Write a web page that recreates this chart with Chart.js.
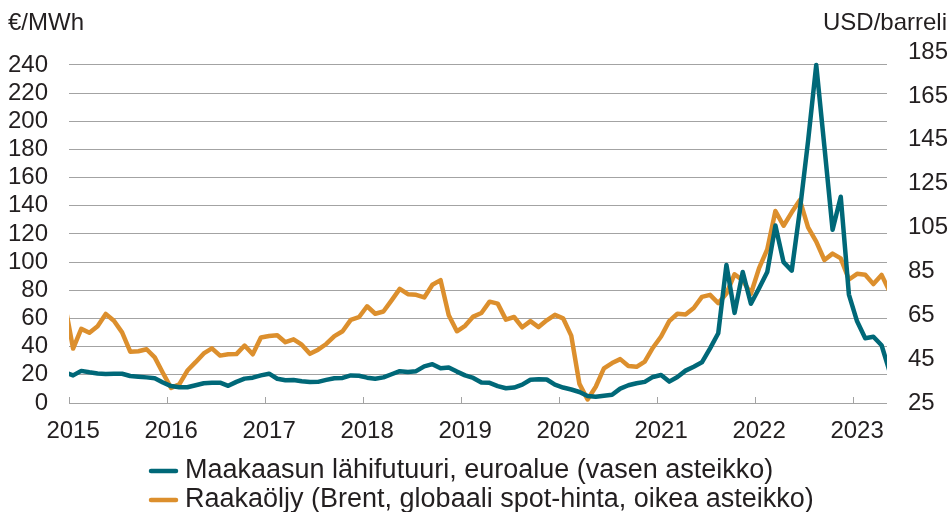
<!DOCTYPE html>
<html>
<head>
<meta charset="utf-8">
<script src="https://cdn.jsdelivr.net/npm/chart.js@4.4.0/dist/chart.umd.min.js"></script>
<style>
  html, body { margin: 0; padding: 0; background: #fff; }
</style>
</head>
<body>
<canvas id="energyChart" width="949" height="512"></canvas>
<script>
// Monthly averages, Dec 2014 - May 2023 (first and last points fall just outside the plot)
const startYear = 2014;
const startMonth = 12;

// Maakaasu (TTF), €/MWh
const gasPrices = [
  21.7,
  19.6, 22.8, 21.8, 21.0, 20.6, 20.7, 20.8, 19.2, 18.7, 18.2, 17.6, 14.6,   // 2015
  12.0, 11.2, 11.2, 12.6, 14.0, 14.4, 14.4, 12.2, 15.0, 17.3, 18.0, 19.6,   // 2016
  20.8, 17.2, 16.2, 16.4, 15.5, 14.9, 15.0, 16.4, 17.6, 17.8, 19.6, 19.3,   // 2017
  18.0, 17.2, 18.2, 20.4, 22.6, 22.0, 22.6, 26.0, 27.6, 24.6, 25.2, 22.3,   // 2018
  19.6, 17.8, 14.5, 14.3, 12.0, 10.5, 11.0, 13.0, 16.5, 16.8, 16.7, 13.0,   // 2019
  11.0, 9.6, 7.8, 5.0, 4.4, 5.2, 5.8, 10.2, 12.6, 14.0, 15.0, 18.5,         // 2020
  19.9, 15.2, 18.5, 23.0, 25.8, 28.9, 38.8, 49.5, 98.0, 64.0, 93.0, 70.5,   // 2021
  81.5, 93.0, 126.0, 100.0, 94.0, 137.0, 186.0, 240.0, 182.0, 123.0, 146.5, 77.0, // 2022
  58.0, 46.0, 47.0, 41.0, 22.0                                              // 2023
];

// Raakaöljy (Brent), USD/barreli
const oilPrices = [
  70.0,
  49.8, 58.8, 57.0, 60.0, 65.6, 62.5, 57.2, 48.4, 48.6, 49.5, 45.8, 38.7,   // 2015
  31.9, 33.5, 39.8, 43.6, 47.6, 49.9, 46.6, 47.2, 47.3, 51.2, 47.2, 54.9,   // 2016
  55.5, 55.9, 52.7, 54.0, 51.6, 47.4, 49.3, 51.9, 55.5, 57.7, 62.9, 64.1,   // 2017
  69.1, 65.7, 66.7, 71.8, 77.0, 74.6, 74.3, 73.1, 78.9, 81.0, 65.0, 57.7,   // 2018
  60.2, 64.4, 66.0, 71.2, 70.3, 63.0, 64.2, 59.5, 62.3, 59.6, 62.7, 65.2,   // 2019
  63.6, 55.7, 33.7, 26.6, 32.4, 40.8, 43.2, 45.0, 41.9, 41.5, 43.9, 50.2,   // 2020
  55.3, 62.3, 65.7, 65.3, 68.3, 73.4, 74.3, 70.5, 74.9, 83.7, 80.9, 74.8,   // 2021
  86.5, 95.0, 112.5, 105.8, 111.9, 117.5, 105.1, 98.6, 90.2, 93.1, 90.9, 81.3, // 2022
  83.9, 83.5, 79.2, 83.4, 75.7                                              // 2023
];

const yearTicks = [2015, 2016, 2017, 2018, 2019, 2020, 2021, 2022, 2023];
const seriesLabels = [
  'Maakaasun lähifutuuri, euroalue (vasen asteikko)',
  'Raakaöljy (Brent, globaali spot-hinta, oikea asteikko)'
];
const unitLeft = '€/MWh';
const unitRight = 'USD/barreli';

const gasColor = '#006878';
const oilColor = '#DC8F2D';
const gridColor = '#A3A3A3';
const textColor = '#231F20';
const fontFamily = '"Liberation Sans", Arial, Helvetica, sans-serif';

// month categories -> decimal year at mid-month
const months = gasPrices.map((_, i) => {
  const m = startMonth - 1 + i;
  return startYear + Math.floor(m / 12) + ((m % 12) + 0.5) / 12;
});

function toPoints(values) {
  return values.map((v, i) => ({ x: months[i], y: v }));
}

Chart.defaults.font.family = fontFamily;
Chart.defaults.font.size = 24;
Chart.defaults.color = textColor;

// unit labels, year tick marks and legend
const extras = {
  id: 'extras',
  afterDraw(chart) {
    const { ctx, chartArea, scales } = chart;
    ctx.save();
    ctx.strokeStyle = gridColor;
    ctx.lineWidth = 1;
    yearTicks.forEach(year => {
      const x = Math.round(scales.x.getPixelForValue(year)) + 0.5;
      ctx.beginPath();
      ctx.moveTo(x, chartArea.bottom - 6);
      ctx.lineTo(x, chartArea.bottom);
      ctx.stroke();
    });

    ctx.font = '24px ' + fontFamily;
    ctx.fillStyle = textColor;
    ctx.textBaseline = 'middle';
    ctx.textAlign = 'left';
    ctx.fillText(unitLeft, 8, 23);
    ctx.textAlign = 'right';
    ctx.fillText(unitRight, 947, 23);

    ctx.font = '27px ' + fontFamily;
    ctx.textAlign = 'left';
    ctx.lineCap = 'round';
    chart.data.datasets.forEach((ds, i) => {
      const y = 471 + i * 29;
      ctx.strokeStyle = ds.borderColor;
      ctx.lineWidth = 4.5;
      ctx.beginPath();
      ctx.moveTo(151, y);
      ctx.lineTo(176, y);
      ctx.stroke();
      ctx.fillText(ds.label, 185, y);
    });
    ctx.restore();
  }
};

const ctx = document.getElementById('energyChart').getContext('2d');
const energyChart = new Chart(ctx, {
  type: 'line',
  data: {
    datasets: [
      {
        label: seriesLabels[0],
        data: toPoints(gasPrices),
        borderColor: gasColor,
        borderWidth: 4.5,
        borderJoinStyle: 'round',
        pointRadius: 0,
        tension: 0,
        clip: 0,
        yAxisID: 'yLeft'
      },
      {
        label: seriesLabels[1],
        data: toPoints(oilPrices),
        borderColor: oilColor,
        borderWidth: 4.5,
        borderJoinStyle: 'round',
        pointRadius: 0,
        tension: 0,
        clip: 0,
        yAxisID: 'yRight'
      }
    ]
  },
  options: {
    responsive: false,
    animation: false,
    devicePixelRatio: 1,
    layout: { padding: { top: 52, left: 0, right: 0, bottom: 0 } },
    plugins: {
      legend: { display: false },
      tooltip: { enabled: false }
    },
    scales: {
      x: {
        type: 'linear',
        min: 2015,
        max: 2023.347,
        grid: { display: false, drawTicks: false },
        border: { display: false },
        afterBuildTicks: scale => {
          // labels sit on the January mid-point
          scale.ticks = yearTicks.map(y => ({ value: y + 1 / 24 }));
        },
        ticks: {
          autoSkip: false,
          maxRotation: 0,
          padding: 14,
          callback: value => String(Math.floor(value))
        },
        afterFit: scale => { scale.height = 109; }
      },
      yLeft: {
        position: 'left',
        min: 0,
        max: 249.23,
        ticks: { stepSize: 20, includeBounds: false, autoSkip: false, padding: 21 },
        grid: { color: gridColor, lineWidth: 1, drawTicks: false },
        border: { display: false },
        afterFit: scale => { scale.width = 69; }
      },
      yRight: {
        position: 'right',
        min: 25,
        max: 185,
        ticks: { stepSize: 20, autoSkip: false, padding: 21 },
        grid: { display: false, drawTicks: false },
        border: { display: false },
        afterFit: scale => { scale.width = 62; }
      }
    }
  },
  plugins: [extras]
});
</script>
</body>
</html>
